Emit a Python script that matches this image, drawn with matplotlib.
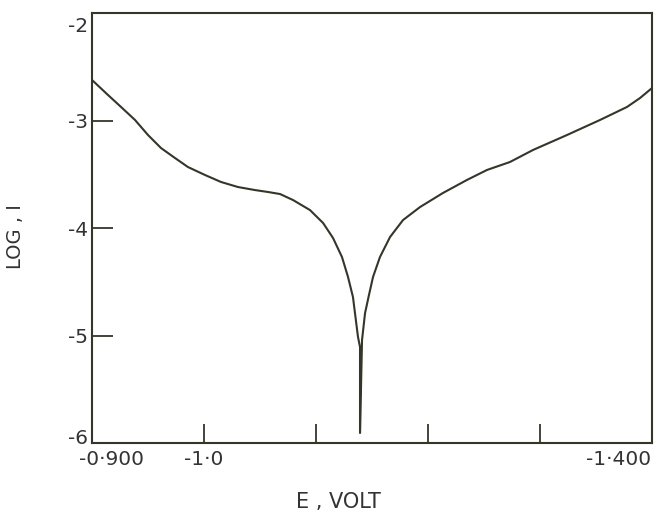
import matplotlib
matplotlib.use("Agg")
import matplotlib.pyplot as plt
import matplotlib.transforms as mtransforms

# Polarization curve: potential (V) vs log current
E_volt = [-0.9000, -0.9143, -0.9259, -0.9384, -0.9500, -0.9616, -0.9741, -0.9857,
          -1.0009, -1.0152, -1.0304, -1.0455, -1.0571, -1.0679, -1.0795, -1.0946,
          -1.1063, -1.1152, -1.1232, -1.1286, -1.1330, -1.1348, -1.1375, -1.1393,
          -1.1393,
          -1.1411, -1.1438, -1.1473, -1.1509, -1.1571, -1.1661, -1.1777, -1.1929,
          -1.2134, -1.2348, -1.2527, -1.2732, -1.2938, -1.3241, -1.3536, -1.3777,
          -1.3893, -1.4000]
log_I = [-2.623, -2.763, -2.874, -2.995, -3.135, -3.256, -3.349, -3.433,
         -3.507, -3.572, -3.619, -3.647, -3.665, -3.684, -3.740, -3.833,
         -3.953, -4.093, -4.270, -4.456, -4.642, -4.791, -5.014, -5.107,
         -5.907,
         -5.042, -4.791, -4.623, -4.456, -4.270, -4.084, -3.926, -3.805,
         -3.674, -3.553, -3.460, -3.386, -3.274, -3.135, -2.995, -2.874,
         -2.791, -2.698]

x_ticks = [-0.9, -1.0, -1.1, -1.2, -1.3, -1.4]
x_tick_labels = ["-0·900", "-1·0", "", "", "", "-1·400"]
y_ticks = [-2, -3, -4, -5, -6]
y_tick_labels = ["-2", "-3", "-4", "-5", "-6"]

ink = "#35352a"
fig = plt.figure(figsize=(6.55, 5.13), dpi=100)
ax = fig.add_axes([92/655, 1-443/513, 560/655, 430/513])

ax.plot(E_volt, log_I, color=ink, lw=1.5, solid_joinstyle="round",
        solid_capstyle="round")

ax.set_xlim(-0.9, -1.4)
ax.set_ylim(-6, -2)

ax.set_xticks(x_ticks)
ax.set_xticklabels(x_tick_labels)
ax.set_yticks(y_ticks)
ax.set_yticklabels(y_tick_labels)

ax.tick_params(axis="x", direction="in", length=14, width=1.3, color=ink,
               labelsize=14.5, labelcolor="#333333", pad=5)
ax.tick_params(axis="y", direction="in", length=15, width=1.3, color=ink,
               labelsize=14.5, labelcolor="#333333", pad=3)
# hide tick marks at the spine ends
for t in [ax.xaxis.get_major_ticks()[0], ax.xaxis.get_major_ticks()[-1]]:
    t.tick1line.set_visible(False)
ax.yaxis.get_major_ticks()[0].tick1line.set_visible(False)
ax.yaxis.get_major_ticks()[-1].tick1line.set_visible(False)

# label offsets as in the original
def shift(lbl, dx, dy):
    lbl.set_transform(lbl.get_transform() +
                      mtransforms.ScaledTranslation(dx/100, dy/100, fig.dpi_scale_trans))

xl = ax.get_xticklabels()
shift(xl[0], 19, 0)
shift(xl[-1], -33, 0)
yl = ax.get_yticklabels()
shift(yl[0], 0, -12)
shift(yl[-1], 0, 6)

for s in ax.spines.values():
    s.set_color(ink)
    s.set_linewidth(1.5)

ax.set_xlabel("E , VOLT", fontsize=15, color="#333333")
ax.xaxis.set_label_coords(0.44, -0.115)
ax.set_ylabel("LOG , I", fontsize=14, color="#333333")
ax.yaxis.set_label_coords(-0.12, 0.48)

fig.savefig("out.png", dpi=100)
